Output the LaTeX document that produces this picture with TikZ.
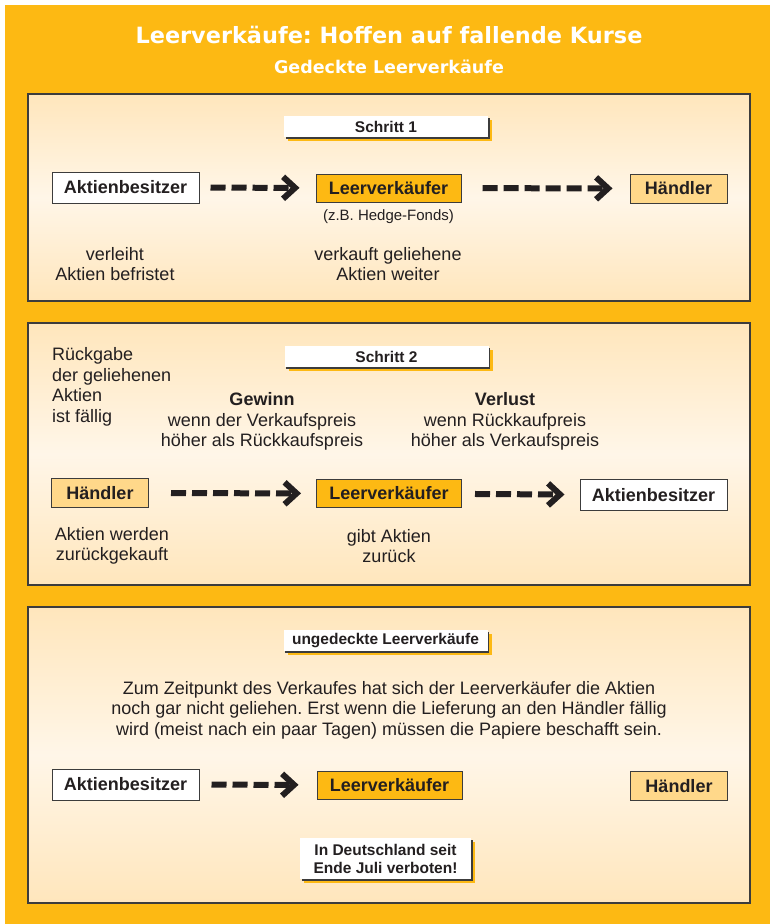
\documentclass[tikz,border=0pt]{standalone}
\usepackage{fontspec}
\setmainfont{Liberation Sans}
\newfontfamily\headfont{DejaVu Sans}
\usetikzlibrary{arrows.meta,positioning}
\definecolor{bgorange}{RGB}{253,185,19}
\definecolor{panelpeach}{RGB}{255,230,188}
\definecolor{panellight}{RGB}{255,246,232}
\definecolor{dealerfill}{RGB}{255,216,138}
\definecolor{inkdark}{RGB}{35,31,32}
\definecolor{edgegray}{RGB}{60,60,60}
\frenchspacing

\tikzset{
  panel/.style={draw=edgegray, line width=1.2pt, top color=panelpeach, bottom color=panelpeach, middle color=panellight},
  headline/.style={text=white, font=\headfont\bfseries\fontsize{22.4}{26}\selectfont, inner sep=0pt},
  subline/.style={text=white, font=\headfont\bfseries\fontsize{17.5}{20}\selectfont, inner sep=0pt},
  actor/.style={draw=edgegray, line width=1pt, text=inkdark, font=\fontsize{18}{20}\selectfont\bfseries, minimum height=29pt, inner sep=0pt},
  owner/.style={actor, fill=white, minimum width=147pt, minimum height=31pt},
  seller/.style={actor, fill=bgorange, minimum width=145pt, minimum height=28pt},
  dealer/.style={actor, fill=dealerfill, minimum width=97pt},
  stepbox/.style={fill=white, text=inkdark, font=\fontsize{15.5}{18}\selectfont\bfseries, minimum width=204pt, minimum height=21pt, inner sep=0pt, align=center,
    preaction={fill=bgorange, transform canvas={shift={(4pt,-4pt)}}},
    preaction={fill=edgegray, transform canvas={shift={(1.5pt,-1.5pt)}}}},
  note/.style={text=inkdark, font=\fontsize{18}{20.5}\selectfont, align=center, inner sep=0pt},
  flow/.style={draw=inkdark, line width=6pt, dash pattern=on 15pt off 6pt, -{Straight Barb[length=12pt,width=22pt]}},
}

\begin{document}
\begin{tikzpicture}[x=1pt, y=-1pt]
  \useasboundingbox (0,0) rectangle (770,924);
  \fill[white] (0,0) rectangle (770,924);
  \fill[bgorange] (5,5) rectangle (770,924);

  % --- Headings ---
  \node[headline, anchor=base] (head) at (389,43) {Leerverkäufe: Hoffen auf fallende Kurse};
  \node[subline, anchor=base] (subhead) at (389,73) {Gedeckte Leerverkäufe};

  % --- Panel 1: Schritt 1 ---
  \path[panel] (28,94) rectangle (750,301);
  \node[stepbox] (step1) at (386,126.5) {Schritt 1};
  \node[owner] (akt1) at (125.5,187.5) {Aktienbesitzer};
  \node[seller] (lv1) at (388.5,188) {Leerverkäufer};
  \node[dealer] (hd1) at (678.5,188.5) {Händler};
  \node[note, font=\fontsize{15}{17}\selectfont, below=7pt of lv1] (fonds) {(z.B. Hedge-Fonds)};
  \draw[flow, shorten <=11pt, shorten >=16pt] (akt1) -- (lv1);
  \draw[flow, shorten <=21pt, shorten >=17pt] (lv1) -- (hd1);
  \node[note] (lend) at (115,264) {verleiht\\Aktien befristet};
  \node[note] (sell) at (388,264) {verkauft geliehene\\Aktien weiter};

  % --- Panel 2: Schritt 2 ---
  \path[panel] (28,323) rectangle (750,585);
  \node[stepbox] (step2) at (386.5,356.5) {Schritt 2};
  \node[note, align=left, anchor=west] (due) at (52,387) {Rückgabe\\der geliehenen\\Aktien\\ist fällig};
  \node[note] (gain) at (262,421.5) {\textbf{Gewinn}\\wenn der Verkaufspreis\\höher als Rückkaufspreis};
  \node[note] (loss) at (505,421.5) {\textbf{Verlust}\\wenn Rückkaufpreis\\höher als Verkaufspreis};
  \node[dealer] (hd2) at (100,493) {Händler};
  \node[seller] (lv2) at (389,493.5) {Leerverkäufer};
  \node[owner] (akt2) at (653.5,495) {Aktienbesitzer};
  \draw[flow, shorten <=22pt, shorten >=15pt] (hd2) -- (lv2);
  \draw[flow, shorten <=13pt, shorten >=15pt] (lv2) -- (akt2);
  \node[note] (buyback) at (112,546) {Aktien werden\\zurückgekauft};
  \node[note] (giveback) at (389,546) {gibt Aktien\\zurück};

  % --- Panel 3: ungedeckte Leerverkaeufe ---
  \path[panel] (28,607) rectangle (750,903);
  \node[stepbox] (step3) at (385.5,640.5) {ungedeckte Leerverkäufe};
  \node[note] (naked) at (389,710) {Zum Zeitpunkt des Verkaufes hat sich der Leerverkäufer die Aktien\\noch gar nicht geliehen. Erst wenn die Lieferung an den Händler fällig\\wird (meist nach ein paar Tagen) müssen die Papiere beschafft sein.};
  \node[owner] (akt3) at (125.5,784.5) {Aktienbesitzer};
  \node[seller] (lv3) at (389.5,785) {Leerverkäufer};
  \node[dealer] (hd3) at (679,786) {Händler};
  \draw[flow, shorten <=12pt, shorten >=18pt] (akt3) -- (lv3);
  \node[stepbox, minimum width=171pt, minimum height=41pt] (ban) at (385.5,858.5) {In Deutschland seit\\Ende Juli verboten!};
\end{tikzpicture}
\end{document}
